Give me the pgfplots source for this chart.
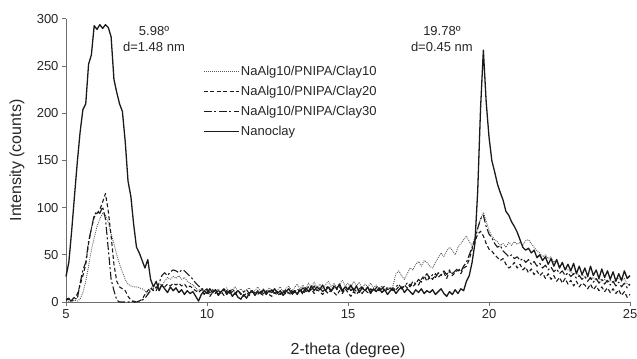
\documentclass[border=0pt]{standalone}
\usepackage{fontspec}
\setmainfont{Liberation Sans}
\usepackage{pgfplots}
\pgfplotsset{compat=1.18}
\usepackage{pgfplotstable}
\definecolor{axgray}{HTML}{6E6E6E}
\definecolor{txt}{HTML}{262626}
\definecolor{ln}{HTML}{1A1A1A}
\pgfplotstableread{
x N C10 C20 C30
5.0 27 0 3 2
5.1 42 1 4 3
5.2 75 0 2 1
5.3 112 2 5 4
5.4 148 1 8 3
5.5 180 3 18 20
5.6 204 10 28 34
5.7 210 22 40 42
5.8 252 38 62 64
5.9 262 55 78 78
6.0 293 68 90 92
6.1 289 80 94 96
6.2 294 88 98 94
6.3 290 94 106 101
6.4 294 92 115 88
6.5 291 84 96 56
6.6 281 72 70 24
6.7 236 62 40 12
6.8 222 50 22 2
6.9 210 40 16 0
7.0 202 32 14 0
7.1 170 24 12 0
7.2 128 19 6 0
7.3 112 17 2 0
7.4 82 16 0 1
7.5 58 16 0 0
7.6 52 15 1 1
7.7 44 14 3 2
7.8 36 12 8 4
7.9 45 8 12 8
8.0 24 14 15 12
8.1 16 18 12 14
8.2 22 15 16 12
8.3 12 20 14 20
8.4 18 17 18 28
8.5 14 22 16 31
8.6 10 26 19 28
8.7 16 24 17 32
8.8 12 27 20 34
8.9 15 25 18 33
9.0 10 28 20 31
9.1 13 24 17 34
9.2 8 26 19 33
9.3 12 22 15 30
9.4 9 20 17 27
9.5 11 18 14 24
9.6 6 15 12 20
9.7 1 12 10 17
9.8 8 14 13 15
9.9 12 9 8 12
10.0 9 13 12 14
10.1 14 8 6 10
10.2 10 12 10 13
10.3 13 10 13 9
10.4 7 14 8 12
10.5 11 9 11 10
10.6 14 12 7 13
10.7 8 15 12 9
10.8 12 10 9 11
10.9 6 13 11 14
11.0 10 16 8 10
11.1 5 11 12 12
11.2 3 14 9 8
11.3 8 10 6 11
11.4 4 13 10 13
11.5 9 15 7 9
11.6 12 10 11 12
11.7 7 12 8 10
11.8 11 16 12 8
11.9 9 11 9 11
12.0 13 14 7 9
12.1 8 10 11 12
12.2 12 15 8 10
12.3 10 12 6 13
12.4 14 9 10 9
12.5 9 13 7 11
12.6 12 16 9 8
12.7 7 11 12 10
12.8 11 14 8 13
12.9 14 17 10 9
13.0 9 12 7 12
13.1 12 15 11 10
13.2 8 19 9 14
13.3 13 14 13 11
13.4 10 18 8 15
13.5 15 13 12 12
13.6 11 20 10 16
13.7 17 16 14 13
13.8 12 21 9 17
13.9 16 15 13 12
14.0 13 19 11 15
14.1 18 14 8 11
14.2 12 18 12 14
14.3 16 22 9 17
14.4 11 16 13 12
14.5 17 20 10 15
14.6 14 15 7 13
14.7 19 19 12 16
14.8 12 23 9 11
14.9 16 17 14 14
15.0 13 20 10 17
15.1 18 15 6 12
15.2 12 22 11 15
15.3 17 17 8 11
15.4 10 21 12 14
15.5 15 14 9 16
15.6 12 19 13 12
15.7 16 16 10 15
15.8 9 20 14 11
15.9 14 15 11 13
16.0 11 18 15 16
16.1 15 14 12 12
16.2 10 17 16 14
16.3 13 13 11 17
16.4 8 16 14 13
16.5 12 12 12 15
16.6 14 18 15 12
16.7 9 30 13 16
16.8 13 33 16 19
16.9 16 28 14 14
17.0 10 24 18 17
17.1 14 30 15 20
17.2 11 36 19 16
17.3 8 34 16 22
17.4 13 40 20 19
17.5 10 43 18 24
17.6 14 38 24 21
17.7 9 44 28 26
17.8 12 42 22 30
17.9 10 38 27 25
18.0 13 36 24 29
18.1 8 42 30 26
18.2 11 47 26 31
18.3 14 52 29 28
18.4 9 48 31 33
18.5 6 54 25 29
18.6 11 58 33 34
18.7 8 55 28 30
18.8 13 50 31 33
18.9 9 58 34 36
19.0 14 62 30 32
19.1 12 66 36 38
19.2 22 70 38 42
19.3 28 64 45 50
19.4 42 60 56 58
19.5 62 68 64 66
19.6 118 78 72 78
19.7 205 88 75 88
19.8 267 95 70 92
19.9 212 86 62 80
20.0 175 76 56 72
20.1 150 70 54 68
20.2 138 66 50 62
20.3 125 64 47 58
20.4 116 60 44 60
20.5 108 62 46 54
20.6 96 58 40 51
20.7 92 63 36 48
20.8 85 60 38 50
20.9 80 64 42 46
21.0 74 61 36 48
21.1 66 63 40 44
21.2 58 60 34 46
21.3 55 65 37 42
21.4 57 66 31 45
21.5 52 62 35 40
21.6 55 58 29 43
21.7 47 54 33 38
21.8 50 52 28 41
21.9 44 48 31 36
22.0 48 50 25 39
22.1 40 46 30 34
22.2 46 48 24 37
22.3 38 42 28 32
22.4 45 44 22 35
22.5 36 38 26 30
22.6 42 40 20 33
22.7 34 36 25 28
22.8 40 34 19 31
22.9 33 32 23 27
23.0 41 30 17 30
23.1 30 31 22 25
23.2 38 28 16 28
23.3 29 29 20 24
23.4 36 26 18 27
23.5 27 27 14 22
23.6 38 24 19 26
23.7 28 26 13 21
23.8 34 23 17 25
23.9 25 25 12 20
24.0 35 22 16 24
24.1 26 24 11 19
24.2 33 21 15 23
24.3 24 23 10 18
24.4 32 20 14 22
24.5 22 24 9 17
24.6 30 26 13 21
24.7 23 22 7 16
24.8 33 25 11 20
24.9 25 19 5 15
25.0 28 18 8 19
}\xrd

\begin{document}
\begin{tikzpicture}
\useasboundingbox (-66bp,-57bp) rectangle (571bp,302bp);
\begin{axis}[
  scale only axis, width=564bp, height=283bp,
  xmin=5, xmax=25, ymin=0, ymax=300,
  axis x line*=bottom, axis y line*=left,
  axis line style={axgray, line width=1bp},
  tick align=outside, major tick length=4bp,
  tick style={axgray, line width=1bp},
  xtick={5,10,15,20,25}, ytick={0,50,...,300},
  ticklabel style={font=\fontsize{13bp}{15bp}\selectfont, text=txt},
  /pgf/number format/assume math mode=true,
  xlabel={2-theta (degree)}, ylabel={Intensity (counts)},
  label style={font=\fontsize{16bp}{19bp}\selectfont, text=txt},
  xlabel style={at={(rel axis cs:0.5,-0.17)}, anchor=center},
  ylabel style={at={(rel axis cs:-0.087,0.5)}, anchor=center, rotate=0},
  clip=false,
  legend style={at={(rel axis cs:0.2429,0.841)}, anchor=north west,
    draw=none, fill=none, inner sep=0pt,
    font=\fontsize{13bp}{15bp}\selectfont, text=txt,
    nodes={inner sep=1.5bp, text height=9.5bp, text depth=2.5bp},
    row sep=5bp},
  legend cell align=left,
  legend image code/.code={\draw[#1] (0bp,0bp) -- (35bp,0bp);},
]
\addplot[color=black!65, line width=0.9bp, dash pattern=on 0.9bp off 1.1bp, line join=round] table[x=x,y=C10] {\xrd};
\addlegendentry{NaAlg10/PNIPA/Clay10}
\addplot[color=ln, line width=1.1bp, dash pattern=on 4bp off 2.5bp, line join=round] table[x=x,y=C20] {\xrd};
\addlegendentry{NaAlg10/PNIPA/Clay20}
\addplot[color=ln, line width=1.1bp, dash pattern=on 8bp off 2.5bp on 2bp off 2.5bp, line join=round] table[x=x,y=C30] {\xrd};
\addlegendentry{NaAlg10/PNIPA/Clay30}
\addplot[color=ln, line width=1.3bp, line join=round] table[x=x,y=N] {\xrd};
\addlegendentry{Nanoclay}
\node[font=\fontsize{13bp}{15bp}\selectfont, text=txt] at (axis cs:8.12,287) {5.98º};
\node[font=\fontsize{13bp}{15bp}\selectfont, text=txt] at (axis cs:8.12,270) {d=1.48 nm};
\node[font=\fontsize{13bp}{15bp}\selectfont, text=txt] at (axis cs:18.33,287) {19.78º};
\node[font=\fontsize{13bp}{15bp}\selectfont, text=txt] at (axis cs:18.33,270) {d=0.45 nm};
\end{axis}
\end{tikzpicture}
\end{document}
